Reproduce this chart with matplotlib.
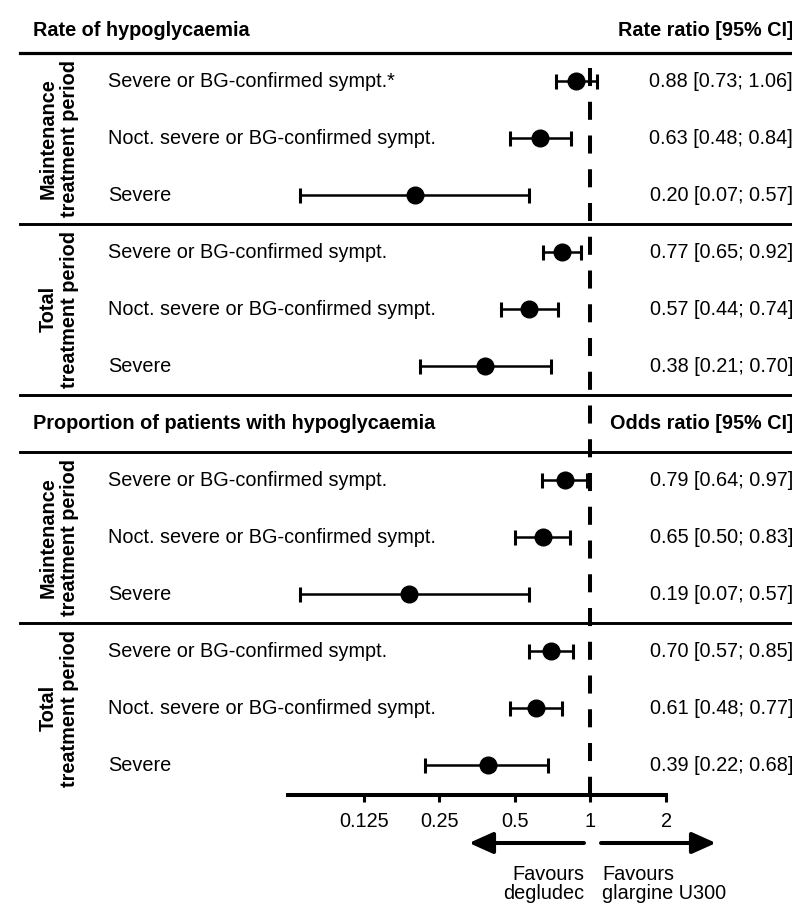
import matplotlib
matplotlib.use("Agg")
import matplotlib.pyplot as plt
import matplotlib.transforms as mtransforms
import numpy as np

plt.rcParams['font.family'] = ['Liberation Sans', 'DejaVu Sans']
plt.rcParams['lines.scale_dashes'] = False

# ---------------- data ----------------
row_labels = ["Severe or BG-confirmed sympt.*", "Noct. severe or BG-confirmed sympt.", "Severe",
              "Severe or BG-confirmed sympt.", "Noct. severe or BG-confirmed sympt.", "Severe",
              "Severe or BG-confirmed sympt.", "Noct. severe or BG-confirmed sympt.", "Severe",
              "Severe or BG-confirmed sympt.", "Noct. severe or BG-confirmed sympt.", "Severe"]
estimates = [0.88, 0.63, 0.20, 0.77, 0.57, 0.38,
             0.79, 0.65, 0.19, 0.70, 0.61, 0.39]
ci_low = [0.73, 0.48, 0.07, 0.65, 0.44, 0.21,
          0.64, 0.50, 0.07, 0.57, 0.48, 0.22]
ci_high = [1.06, 0.84, 0.57, 0.92, 0.74, 0.70,
           0.97, 0.83, 0.57, 0.85, 0.77, 0.68]
group_labels = ["Maintenance\ntreatment period", "Total\ntreatment period",
                "Maintenance\ntreatment period", "Total\ntreatment period"]
section_titles = ["Rate of hypoglycaemia", "Proportion of patients with hypoglycaemia"]
section_stats = ["Rate ratio [95% CI]", "Odds ratio [95% CI]"]
xtick_values = [0.125, 0.25, 0.5, 1, 2]
xtick_labels = ["0.125", "0.25", "0.5", "1", "2"]
favours_left = "Favours\ndegludec"
favours_right = "Favours\nglargine U300"

# ---------------- layout ----------------
W, H = 792, 905
FS = 14.3
fig = plt.figure(figsize=(W / 100, H / 100), dpi=100)

ax_left, ax_right, ax_top, ax_bottom = 288, 666, 53, 795
ax = fig.add_axes([ax_left / W, (H - ax_bottom) / H, (ax_right - ax_left) / W, (ax_bottom - ax_top) / H])
ax.set_xscale('log', base=2)
ax.set_xlim(0.0625, 2)

# slots: 0-2, 3-5 rows; 6 header; 7-9, 10-12 rows
row_slots = [0, 1, 2, 3, 4, 5, 7, 8, 9, 10, 11, 12]
ylim_bottom = 12.526
ax.set_ylim(ylim_bottom, -0.5)

def px_to_slot(py):
    return -0.5 + (py - ax_top) / (ax_bottom - ax_top) * (ylim_bottom + 0.5)

for sp in ['top', 'left', 'right']:
    ax.spines[sp].set_visible(False)
ax.spines['bottom'].set_linewidth(2.9)
ax.set_yticks([])
ax.xaxis.set_major_locator(matplotlib.ticker.FixedLocator(xtick_values))
ax.xaxis.set_minor_locator(matplotlib.ticker.NullLocator())
ax.set_xticklabels(xtick_labels, fontsize=FS)
ax.tick_params(axis='x', length=5, width=2.2, pad=7)
ax.patch.set_alpha(0)

# dashed reference line
ax.plot([1, 1], [px_to_slot(68), ylim_bottom], color='black', lw=2.9,
        dashes=(13.0, 11.3), solid_capstyle='butt', dash_capstyle='butt', clip_on=False, zorder=1)

# forest points
est = np.array(estimates)
lo = np.array(ci_low)
hi = np.array(ci_high)
ax.errorbar(est, row_slots, xerr=[est - lo, hi - est], fmt='o', color='black',
            ecolor='black', elinewidth=1.8, capsize=5.4, capthick=2.2,
            markersize=12, clip_on=False, zorder=3)

# horizontal rules across figure
trans = mtransforms.blended_transform_factory(fig.transFigure, ax.transData)
for yb, lw in [(-0.5, 2.3), (2.5, 2.1), (5.5, 2.1), (6.5, 2.1), (9.5, 2.1)]:
    ax.plot([20 / W, 1.0], [yb, yb], transform=trans, color='black', lw=lw, clip_on=False, zorder=2)

# row labels and stats
for slot, lab, e, l, h in zip(row_slots, row_labels, estimates, ci_low, ci_high):
    ax.text(108 / W, slot, lab, transform=trans, ha='left', va='center', fontsize=FS)
    ax.text(793 / W, slot, f"{e:.2f} [{l:.2f}; {h:.2f}]", transform=trans,
            ha='right', va='center', fontsize=FS)

# section headers
for slot, t, s in zip([px_to_slot(30), 6], section_titles, section_stats):
    ax.text(33 / W, slot, t, transform=trans, ha='left', va='center', fontsize=FS, fontweight='bold')
    ax.text(793 / W, slot, s, transform=trans, ha='right', va='center', fontsize=FS, fontweight='bold')

# group labels
for center, g in zip([1, 4, 8, 11], group_labels):
    ax.text(59 / W, center, g, transform=trans, ha='center', va='center', rotation=90,
            fontsize=FS, fontweight='bold', linespacing=1.15, multialignment='center')

# arrows
arrow_y = H - 843
ap = dict(arrowstyle='-|>,head_length=1.45,head_width=0.65', lw=2.9, color='black',
          mutation_scale=10, shrinkA=0, shrinkB=0)
ax.annotate('', xy=(469, arrow_y), xytext=(584, arrow_y), xycoords='figure pixels',
            textcoords='figure pixels', arrowprops=ap)
ax.annotate('', xy=(716, arrow_y), xytext=(601, arrow_y), xycoords='figure pixels',
            textcoords='figure pixels', arrowprops=ap)

fig.text(584 / W, (H - 865) / H, favours_left, ha='right', va='top', fontsize=FS, linespacing=1.0)
fig.text(602 / W, (H - 865) / H, favours_right, ha='left', va='top', fontsize=FS, linespacing=1.0)

fig.savefig("out.png", dpi=100, facecolor='white')
